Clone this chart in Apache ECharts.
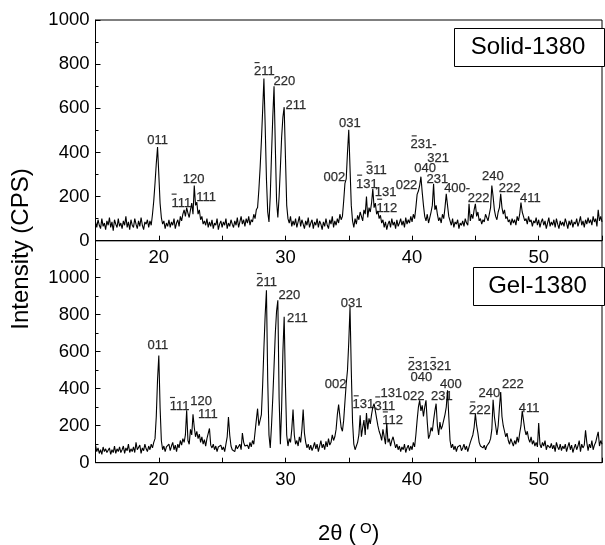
<!DOCTYPE html>
<html>
<head>
<meta charset="utf-8">
<script src="https://cdn.jsdelivr.net/npm/echarts@6/dist/echarts.min.js"></script>
<style>
html,body{margin:0;padding:0;background:#fff;}
#chart{width:605px;height:545px;}
</style>
</head>
<body>
<div id="chart"></div>
<script>
// 2θ scan: start and step of the recorded pattern (degrees)
const twoThetaStart = 15;
const twoThetaStep = 0.1;

// Solid-1380 intensities (CPS), one row per degree (15.0 ... 55.0)
const solid = [
 85, 60, 95, 70, 55, 100, 65, 80, 50, 90,
 70, 105, 60, 85, 45, 95, 75, 60, 100, 65,
 80, 55, 90, 70, 110, 60, 85, 50, 95, 70,
 60, 100, 75, 55, 90, 65, 105, 70, 50, 85,
 75, 95, 60, 90, 70, 120, 180, 260, 350, 424,
 300, 170, 105, 75, 90, 55, 80, 65, 95, 60,
 85, 70, 100, 55, 80, 95, 65, 110, 90, 120,
 140, 110, 150, 125, 105, 140, 170, 120, 250, 160,
 175, 120, 140, 95, 110, 75, 90, 70, 100, 60,
 85, 65, 95, 55, 80, 70, 100, 50, 75, 90,
 60, 85, 70, 100, 55, 80, 65, 95, 75, 60,
 90, 70, 105, 60, 85, 110, 75, 95, 65, 100,
 80, 110, 70, 95, 85, 120, 100, 140, 150, 230,
 330, 450, 590, 735, 520, 280, 130, 85, 200, 390,
 560, 700, 430, 180, 105, 200, 330, 470, 560, 605,
 380, 160, 100, 80, 110, 65, 90, 70, 100, 60,
 85, 110, 65, 95, 75, 55, 90, 70, 105, 60,
 80, 95, 55, 85, 70, 100, 60, 90, 75, 50,
 85, 65, 100, 70, 55, 95, 75, 110, 60, 90,
 70, 100, 80, 120, 95, 110, 180, 260, 280, 400,
 503, 330, 160, 90, 60, 100, 75, 115, 95, 130,
 110, 90, 140, 120, 200, 105, 150, 130, 170, 235,
 150, 170, 120, 135, 100, 115, 80, 95, 60, 85,
 50, 75, 90, 60, 100, 70, 85, 55, 95, 65,
 80, 100, 70, 90, 60, 105, 75, 95, 80, 110,
 85, 120, 100, 150, 210, 225, 250, 290, 220, 160,
 110, 90, 120, 80, 105, 130, 160, 258, 140, 160,
 120, 90, 105, 80, 120, 100, 150, 212, 160, 110,
 90, 70, 100, 60, 85, 75, 95, 55, 80, 70,
 90, 65, 100, 80, 70, 167, 90, 120, 100, 140,
 167, 110, 130, 90, 100, 75, 95, 85, 120, 105,
 90, 120, 150, 250, 200, 140, 110, 95, 130, 150,
 212, 150, 120, 140, 100, 110, 85, 95, 70, 100,
 80, 95, 70, 110, 90, 120, 173, 130, 110, 90,
 100, 75, 110, 85, 95, 65, 90, 80, 105, 70,
 95, 60, 85, 100, 70, 90, 55, 80, 105, 65,
 85, 70, 95, 60, 100, 75, 55, 90, 70, 85,
 65, 100, 80, 55, 90, 70, 95, 60, 85, 75,
 100, 65, 85, 110, 70, 90, 60, 95, 75, 105,
 80, 95, 70, 110, 85, 100, 65, 140, 90, 110,
 85
];

// Gel-1380 intensities (CPS), one row per degree (15.0 ... 55.0)
const gel = [
 95, 60, 80, 50, 70, 45, 85, 60, 75, 55,
 65, 80, 45, 70, 55, 90, 50, 75, 60, 85,
 55, 70, 90, 50, 80, 65, 100, 55, 75, 60,
 85, 55, 110, 70, 60, 95, 50, 80, 65, 100,
 75, 60, 90, 70, 100, 80, 110, 130, 250, 450,
 579, 300, 120, 70, 90, 60, 85, 75, 100, 65,
 90, 110, 70, 95, 60, 100, 80, 120, 95, 130,
 110, 150, 283, 120, 100, 180, 150, 262, 190, 140,
 170, 130, 155, 110, 140, 100, 125, 90, 130, 120,
 185, 95, 80, 100, 70, 90, 60, 85, 75, 95,
 70, 85, 60, 100, 140, 247, 150, 90, 70, 80,
 60, 95, 75, 85, 100, 70, 160, 110, 90, 80,
 95, 75, 110, 85, 120, 100, 90, 230, 292, 200,
 200, 260, 420, 620, 800, 932, 450, 150, 80, 200,
 350, 520, 700, 820, 878, 350, 100, 300, 600, 789,
 420, 150, 90, 130, 110, 180, 287, 150, 100, 120,
 90, 140, 110, 180, 287, 160, 110, 80, 100, 70,
 95, 65, 85, 110, 75, 100, 60, 90, 120, 80,
 100, 70, 115, 85, 130, 95, 110, 150, 120, 140,
 180, 260, 314, 250, 190, 170, 230, 330, 427, 500,
 650, 842, 500, 220, 100, 70, 90, 110, 150, 256,
 140, 190, 230, 150, 269, 180, 240, 210, 260, 300,
 319, 280, 240, 200, 170, 150, 120, 180, 140, 100,
 215, 110, 130, 90, 120, 140, 110, 80, 100, 70,
 90, 60, 85, 70, 100, 55, 80, 95, 65, 90,
 70, 110, 85, 150, 230, 300, 337, 280, 310, 250,
 300, 337, 220, 130, 150, 190, 170, 230, 280, 319,
 200, 150, 220, 180, 200, 230, 260, 300, 391, 250,
 120, 80, 100, 70, 90, 60, 85, 75, 95, 65,
 80, 100, 70, 90, 60, 85, 110, 130, 150, 190,
 265, 200, 160, 110, 90, 100, 80, 95, 70, 90,
 85, 110, 130, 180, 340, 250, 200, 150, 200, 300,
 382, 250, 200, 170, 140, 160, 120, 100, 130, 110,
 90, 120, 100, 140, 110, 160, 200, 280, 230, 180,
 150, 170, 130, 110, 140, 100, 120, 90, 110, 85,
 215, 100, 80, 110, 90, 120, 70, 95, 100, 80,
 105, 75, 95, 60, 110, 85, 70, 100, 65, 90,
 75, 100, 60, 85, 110, 70, 95, 55, 80, 100,
 70, 90, 120, 60, 100, 80, 95, 175, 110, 65,
 100, 80, 120, 70, 95, 110, 140, 167, 90, 120,
 100
];

const B = '\u0304'; // marks a negative Miller index (drawn as an overbar)
// Peak annotations: [text, 2θ, intensity]
const solidPeakLabels = [
 ['011', 19.94, 459], ['1'+B+'11', 21.82, 177], ['120', 22.78, 283], ['111', 23.77, 204],
 ['2'+B+'11', 28.37, 773], ['220', 29.95, 728], ['211', 30.86, 622],
 ['031', 35.12, 539], ['002', 33.9, 295], ['3'+B+'11', 37.22, 323], ['1'+B+'31', 36.47, 263],
 ['131', 37.95, 227], ['1'+B+'12', 38.05, 154], ['2'+B+'31-', 40.95, 441], ['321', 42.1, 381],
 ['040', 41.07, 333], ['231', 42.03, 283], ['022', 39.6, 257], ['400-', 43.6, 242],
 ['222', 45.3, 200], ['240', 46.42, 298], ['222', 47.74, 242], ['411', 49.38, 197]
];
const gelPeakLabels = [
 ['011', 19.97, 640], ['1'+B+'11', 21.69, 312], ['120', 23.38, 342], ['111', 23.92, 267],
 ['2'+B+'11', 28.55, 982], ['220', 30.35, 910], ['211', 30.99, 789], ['031', 35.26, 871],
 ['002', 34.0, 432], ['2'+B+'31'+'3'+B+'21', 41.42, 528], ['040', 40.77, 469], ['400', 43.1, 432],
 ['022', 40.17, 366], ['231', 42.4, 366], ['131', 38.4, 380], ['1'+B+'31', 36.2, 321],
 ['3'+B+'11', 37.9, 315], ['1'+B+'12', 38.5, 234], ['2'+B+'22', 45.4, 288], ['240', 46.14, 384],
 ['222', 48.0, 429], ['411', 49.28, 303]
];

const xTicks = { min: 15, max: 55, interval: 5 };
const yTopTicks = { min: 0, max: 1000, interval: 200 };
const yBotTicks = { min: 0, max: 1200, interval: 200 };

const FONT = 'Liberation Sans, Arial, Helvetica, sans-serif';
const LBL = 13;                 // peak label font size
const DIG = LBL * 0.5562;       // digit advance
const HYP = LBL * 0.333;        // hyphen advance
const toPairs = arr => arr.map((v, i) => [+(twoThetaStart + i * twoThetaStep).toFixed(2), v]);
const toLabels = arr => arr.map(d => ({ name: d[0], value: [d[1], d[2]] }));

// Build a two-line rich label: overbar line + index digits
function peakLabel(p) {
  const s = p.name;
  let plain = '', bars = '';
  for (let i = 0; i < s.length; i++) {
    const c = s[i];
    if (c === B) continue;
    const barred = s[i + 1] === B;
    plain += c;
    if (c === '-') bars += '{h| }';
    else bars += barred ? '{q| }{b| }{q| }' : '{d| }';
  }
  return (bars.indexOf('{b|') >= 0 ? bars : '{d| }') + '\n{t|' + plain + '}';
}
const labelRich = {
  t: { fontSize: LBL, lineHeight: 14, color: '#000', fontFamily: FONT,
       textBorderColor: '#000', textBorderWidth: 0.25 },
  b: { width: DIG - 2.2, height: 1.2, lineHeight: 4, backgroundColor: '#000', fontSize: 4 },
  q: { width: 1.1, lineHeight: 4, fontSize: 4 },
  d: { width: DIG, lineHeight: 4, fontSize: 4 },
  h: { width: HYP, lineHeight: 4, fontSize: 4 }
};

function xAxis(gi) {
  return {
    type: 'value', gridIndex: gi, min: xTicks.min, max: xTicks.max, interval: xTicks.interval,
    axisLine: { lineStyle: { color: '#000', width: 1 } },
    axisTick: { inside: true, length: 5, lineStyle: { color: '#000' } },
    axisLabel: { color: '#000', fontSize: 18.5, fontFamily: FONT, margin: 8,
      formatter: v => (v % 10 === 0 ? String(v) : '') },
    splitLine: { show: false }
  };
}
function yAxis(gi, t, hideMax) {
  return {
    type: 'value', gridIndex: gi, min: t.min, max: t.max, interval: t.interval,
    axisLine: { show: true, lineStyle: { color: '#000', width: 1 } },
    axisTick: { show: true, inside: true, length: 5, lineStyle: { color: '#000' } },
    minorTick: { show: true, splitNumber: 2, length: 3, lineStyle: { color: '#000' } },
    axisLabel: { color: '#000', fontSize: 18.5, fontFamily: FONT, margin: 6,
      showMaxLabel: !hideMax, formatter: v => String(v) },
    splitLine: { show: false }
  };
}
function labelSeries(xi, yi, data) {
  return {
    type: 'scatter', xAxisIndex: xi, yAxisIndex: yi, data: toLabels(data),
    symbolSize: 1, itemStyle: { color: 'rgba(0,0,0,0)' }, silent: true, z: 5,
    label: { show: true, position: [0, 0], align: 'center', verticalAlign: 'middle',
      formatter: peakLabel, rich: labelRich, color: '#000' }
  };
}

const chart = echarts.init(document.getElementById('chart'), null, { renderer: 'canvas' });
chart.setOption({
  animation: false,
  backgroundColor: '#fff',
  grid: [
    { left: 95.5, top: 20, width: 513, height: 220.7, show: true, borderColor: '#000', borderWidth: 1, backgroundColor: 'transparent' },
    { left: 95.5, top: 240.7, width: 513, height: 222, show: true, borderColor: '#000', borderWidth: 1, backgroundColor: 'transparent' }
  ],
  xAxis: [xAxis(0), xAxis(1)],
  yAxis: [yAxis(0, yTopTicks, false), yAxis(1, yBotTicks, true)],
  series: [
    { type: 'line', xAxisIndex: 0, yAxisIndex: 0, data: toPairs(solid), showSymbol: false,
      lineStyle: { color: '#000', width: 1.1 }, silent: true },
    { type: 'line', xAxisIndex: 1, yAxisIndex: 1, data: toPairs(gel), showSymbol: false,
      lineStyle: { color: '#000', width: 1.1 }, silent: true },
    labelSeries(0, 0, solidPeakLabels),
    labelSeries(1, 1, gelPeakLabels)
  ],
  graphic: [
    { type: 'rect', shape: { x: 454.5, y: 28.5, width: 150, height: 38 },
      style: { fill: '#fff', stroke: '#000', lineWidth: 1 }, z: 10 },
    { type: 'text', x: 528, y: 47.5, z: 11,
      style: { text: 'Solid-1380', font: '24px ' + FONT, fill: '#000', align: 'center', verticalAlign: 'middle' } },
    { type: 'rect', shape: { x: 473.5, y: 267.5, width: 131, height: 38 },
      style: { fill: '#fff', stroke: '#000', lineWidth: 1 }, z: 10 },
    { type: 'text', x: 537.5, y: 286.5, z: 11,
      style: { text: 'Gel-1380', font: '24px ' + FONT, fill: '#000', align: 'center', verticalAlign: 'middle' } },
    { type: 'text', x: 21, y: 249, rotation: Math.PI / 2,
      style: { text: 'Intensity (CPS)', font: '24px ' + FONT, fill: '#000', align: 'center', verticalAlign: 'middle' } },
    { type: 'text', x: 318, y: 534,
      style: { text: '2\u03b8 (', font: '22px ' + FONT, fill: '#000', align: 'left', verticalAlign: 'middle' } },
    { type: 'text', x: 360, y: 529,
      style: { text: 'O', font: '15px ' + FONT, fill: '#000', align: 'left', verticalAlign: 'middle' } },
    { type: 'text', x: 372, y: 534,
      style: { text: ')', font: '22px ' + FONT, fill: '#000', align: 'left', verticalAlign: 'middle' } }
  ]
});
</script>
</body>
</html>
